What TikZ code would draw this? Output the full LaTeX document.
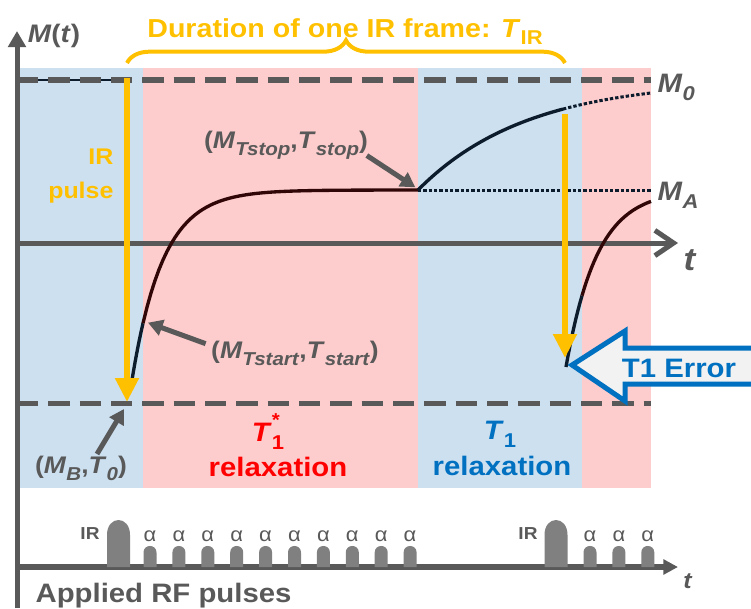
\documentclass[tikz,border=0pt]{standalone}
\usepackage{fontspec}
\setmainfont[FakeStretch=1.1]{Liberation Sans}
\usepackage{tikz}
\usetikzlibrary{arrows.meta, decorations.pathreplacing}

\definecolor{axisgray}{RGB}{89,89,89}
\definecolor{pulsegray}{RGB}{128,128,128}
\definecolor{irgold}{RGB}{255,192,0}
\definecolor{bgblue}{RGB}{205,224,240}
\definecolor{bgpink}{RGB}{253,204,204}
\definecolor{navy}{RGB}{12,28,45}
\definecolor{maroon}{RGB}{48,6,6}
\definecolor{tonered}{RGB}{255,0,0}
\definecolor{toneblue}{RGB}{0,112,192}
\definecolor{errfill}{RGB}{242,242,242}

% lowered index in a fixed size
\newcommand{\subtxt}[2][14]{\raisebox{-0.3em}{\fontsize{#1}{#1}\selectfont #2}}

\begin{document}
\begin{tikzpicture}[x=0.75pt, y=-0.75pt,
    lbl/.style={text=axisgray, inner sep=1pt, font=\bfseries\fontsize{18}{21}\selectfont},
    big/.style={inner sep=1pt, font=\bfseries\fontsize{20}{24}\selectfont},
    tiny/.style={text=axisgray, inner sep=1pt, font=\fontsize{15}{18}\selectfont},
    note/.style={draw=axisgray, line width=3.75pt, -{Triangle[length=11pt,width=12pt]}},
    irpulse/.style={draw=irgold, line width=4.5pt, -{Triangle[length=18pt,width=17pt]}},
    level/.style={draw=axisgray, line width=4.5pt, dash pattern=on 16pt off 7.5pt},
    dots/.style={line width=2.25pt, dash pattern=on 2.5pt off 1.5pt}]
  \useasboundingbox (0,0) rectangle (751,608);

  % relaxation phases
  \fill[bgblue] (17,68) rectangle (143,488);
  \fill[bgpink] (143,68) rectangle (418,488);
  \fill[bgblue] (418,68) rectangle (582,488);
  \fill[bgpink] (582,68) rectangle (651,488);

  % levels M0, MB, MA
  \draw[navy, line width=1.5pt] (17,80) -- (127,80);
  \draw[level] (17,80) -- (651,80);
  \draw[level, line width=3.75pt] (17,403) -- (651,403);
  \draw[navy, dots] (418,190) -- (651,190);

  % axes
  \draw[axisgray, line width=3.75pt, -{Triangle[length=12pt,width=13pt]}] (17,608) -- (17,31);
  \draw[axisgray, line width=3.75pt, -{Straight Barb[length=14pt,width=19pt]}] (17,243) -- (678,243);
  \draw[axisgray, line width=4pt, -{Triangle[length=11pt,width=11pt]}] (17,567) -- (678,567);
  \node[lbl, anchor=base, font=\bfseries\fontsize{19}{22}\selectfont] (Mt) at (54,42) {\textit{M}(\textit{t})};
  \node[lbl, anchor=base, font=\bfseries\fontsize{24}{28}\selectfont] (tup) at (690,270) {\textit{t}};
  \node[lbl, anchor=base, font=\bfseries\fontsize{17}{20}\selectfont] (tlow) at (688,588) {\textit{t}};

  % magnetisation
  \coordinate (Tstart) at (132,380);
  \coordinate (Tstop) at (418,190);
  \draw[navy, line width=2.5pt] plot[domain=132:143, samples=8] (\x, {190+190*exp(-(\x-132)/31)});
  \draw[maroon, line width=2.5pt] plot[domain=143:418, samples=70] (\x, {190+190*exp(-(\x-132)/31)});
  \draw[navy, line width=2.5pt] plot[domain=418:563, samples=40] (\x, {80+110*exp(-(\x-418)/109)});
  \draw[navy, dots] plot[domain=563:651, samples=25] (\x, {80+110*exp(-(\x-418)/109)});
  \draw[navy, line width=2.5pt] plot[domain=566:582, samples=8] (\x, {190+177*exp(-(\x-566)/31)});
  \draw[maroon, line width=2.5pt] plot[domain=582:651, samples=30] (\x, {190+177*exp(-(\x-566)/31)});
  \node[lbl, anchor=base west, font=\bfseries\fontsize{20}{22}\selectfont] (M0) at (656,92) {\textit{M}\subtxt[15]{\textit{0}}};
  \node[lbl, anchor=base west, font=\bfseries\fontsize{20}{22}\selectfont] (MA) at (656,200) {\textit{M}\subtxt[15]{\textit{A}}};

  % inversion pulses and frame length
  \coordinate (ir1a) at (127,78);
  \coordinate (ir1b) at (127,402);
  \coordinate (ir2a) at (565,114);
  \coordinate (ir2b) at (565,358);
  \draw[irpulse] (ir1a) -- (ir1b);
  \draw[irpulse] (ir2a) -- (ir2b);
  \node[text=irgold, anchor=east, align=right, inner sep=1pt, font=\bfseries\fontsize{17}{26}\selectfont] (irlbl) at (115,176) {IR\\pulse};
  \coordinate (frameL) at (127,63);
  \coordinate (frameR) at (565,63);
  \draw[irgold, line width=3pt, decorate, decoration={brace, amplitude=17pt}] (frameL) -- (frameR);
  \node[big, text=irgold, anchor=base, font=\bfseries\fontsize{19.5}{23}\selectfont] (frame) at (345,37) {Duration of one IR frame: \textit{T}\subtxt[15]{IR}};

  % T1 error
  \filldraw[draw=toneblue, fill=errfill, line width=3.75pt] (572,365) -- (625,331) -- (625,348) -- (770,348) -- (770,384) -- (625,384) -- (625,401) -- cycle;
  \node[big, text=toneblue, anchor=base] (err) at (679,377) {T1 Error};

  % annotations
  \coordinate (MB) at (124,409);
  \node[lbl, anchor=base] (stoplbl) at (286,148) {(\textit{M}\subtxt{\textit{Tstop}},\textit{T}\subtxt{\textit{stop}})};
  \node[lbl, anchor=base] (startlbl) at (295,358) {(\textit{M}\subtxt{\textit{Tstart}},\textit{T}\subtxt{\textit{start}})};
  \node[lbl, anchor=base] (mblbl) at (81,473) {(\textit{M}\subtxt{\textit{B}},\textit{T}\subtxt{\textit{0}})};
  \draw[note] ([xshift=-2pt,yshift=-8pt]stoplbl.east) -- ([xshift=-2pt,yshift=2pt]Tstop);
  \draw[note] ([xshift=-3pt,yshift=7pt]startlbl.west) -- ([xshift=12pt,yshift=43pt]Tstart);
  \draw[note] ([xshift=12pt]mblbl.north) -- (MB);

  \node[big, text=tonered, anchor=base] (t1star) at (268,441) {\textit{T}\rlap{\raisebox{0.55em}{\fontsize{14}{14}\selectfont *}}\subtxt[15]{1}};
  \node[big, text=tonered, anchor=base] (relaxA) at (278,476) {relaxation};
  \node[big, text=toneblue, anchor=base] (t1) at (500,439) {\textit{T}\subtxt[15]{1}};
  \node[big, text=toneblue, anchor=base] (relaxB) at (502,475) {relaxation};

  % applied RF pulses
  \foreach \px in {118.5,556}
    \fill[pulsegray] ({\px-11.5},567) -- ({\px-11.5},535) .. controls ({\px-11.5},515) and ({\px+11.5},515) .. ({\px+11.5},535) -- ({\px+11.5},567) -- cycle;
  \foreach \px [count=\i] in {150,178.9,207.8,236.7,265.6,294.5,323.4,352.3,381.2,410.1,590,618.9,647.8} {
    \fill[pulsegray] ({\px-6.5},567) -- ({\px-6.5},552.5) .. controls ({\px-6.5},543.8) and ({\px+6.5},543.8) .. ({\px+6.5},552.5) -- ({\px+6.5},567) -- cycle;
    \node[tiny, anchor=base] (alpha\i) at (\px,541) {α};
  }
  \node[lbl, anchor=base, font=\bfseries\fontsize{13}{16}\selectfont] (irA) at (90,539) {IR};
  \node[lbl, anchor=base, font=\bfseries\fontsize{13}{16}\selectfont] (irB) at (528,539) {IR};
  \node[lbl, anchor=base west, font=\bfseries\fontsize{20}{24}\selectfont] (rf) at (34,602) {Applied RF pulses};
\end{tikzpicture}
\end{document}
